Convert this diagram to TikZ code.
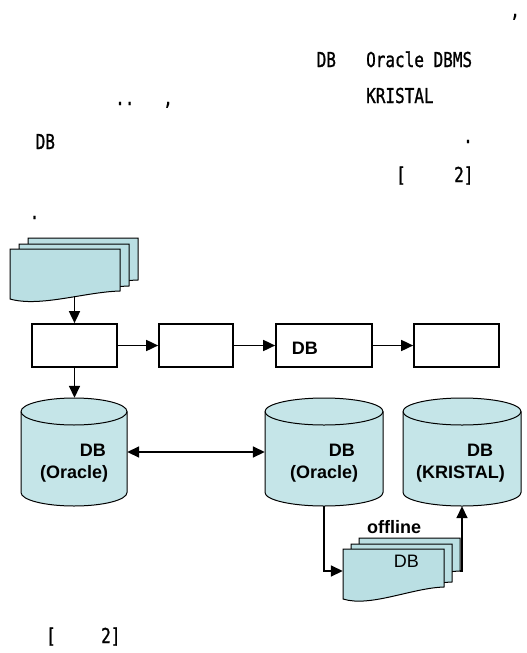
\documentclass[tikz,border=0pt]{standalone}
\usepackage{fontspec}
\setmainfont{Liberation Sans}
\newfontfamily\monofnt[FakeBold=1.2]{DejaVu Sans Mono}
\usepackage{graphicx}
\usetikzlibrary{arrows.meta}
\definecolor{docfill}{RGB}{186,223,227}
\definecolor{cylfill}{RGB}{197,229,232}
\newcommand{\condtxt}[1]{\scalebox{0.78}[1]{\monofnt\fontsize{20.5}{20.5}\selectfont #1}}
% sheet: L, R, T, BR, BL
\newcommand{\docsheet}[5]{%
  \draw[sheet] (#1,-#3) -- (#2,-#3) -- (#2,-#4)
    .. controls ({#2-0.32*(#2-#1)},{-#4-1}) and ({#1+0.27*(#2-#1)},{-#5-8.5}) .. (#1,-#5) -- cycle;}
% cylinder: L, R, T, B
\newcommand{\cylshape}[4]{%
  \draw[cylbody] (#1,{-(#3+13.5)}) -- (#1,{-(#4-13.5)})
    arc[start angle=180,end angle=360,x radius={(#2-#1)/2},y radius=13.5]
    -- (#2,{-(#3+13.5)})
    arc[start angle=0,end angle=180,x radius={(#2-#1)/2},y radius=13.5] -- cycle;
  \draw[cylbody,fill=none] (#1,{-(#3+13.5)})
    arc[start angle=180,end angle=360,x radius={(#2-#1)/2},y radius=13.5];}
\tikzset{
  ptxt/.style={inner sep=0pt, anchor=base west},
  holder/.style={rectangle, draw=none, inner sep=0pt},
  flowbox/.style={rectangle, draw, line width=1.7pt, minimum height=43pt, inner sep=0pt},
  arr/.style={line width=1.7pt, -{Triangle[length=12pt,width=11pt]}},
  darr/.style={line width=1.7pt, {Triangle[length=12pt,width=11pt]}-{Triangle[length=12pt,width=11pt]}},
  lblb/.style={inner sep=0pt, font=\bfseries\fontsize{18}{18}\selectfont},
  lblr/.style={inner sep=0pt, font=\fontsize{18}{18}\selectfont},
  sheet/.style={draw=black, fill=docfill, line width=1pt},
  cylbody/.style={draw=black, fill=cylfill, line width=1pt},
}
\begin{document}
\begin{tikzpicture}[x=1pt,y=1pt]
\fill[white] (0,0) rectangle (527,-653);
\useasboundingbox (0,0) rectangle (527,-653);

% ---- text lines ----
\node[ptxt] (t1) at (510,-17) {\condtxt{,}};
\node[ptxt] (t2) at (316.5,-67) {\condtxt{DB}};
\node[ptxt] (t3) at (366,-67) {\condtxt{Oracle DBMS}};
\node[ptxt] (t4) at (366,-103) {\condtxt{KRISTAL}};
\node[ptxt] (t5) at (115,-105) {\condtxt{..}};
\node[ptxt] (t6) at (163,-105) {\condtxt{,}};
\node[ptxt] (t7) at (35.5,-149) {\condtxt{DB}};
\node[ptxt] (t8) at (463,-143) {\condtxt{.}};
\node[ptxt] (t9) at (396,-182) {\condtxt{[}};
\node[ptxt] (t10) at (454,-182) {\condtxt{2]}};
\node[ptxt] (t11) at (29.5,-219) {\condtxt{.}};
\node[ptxt] (t12) at (46,-643) {\condtxt{[}};
\node[ptxt] (t13) at (101,-643) {\condtxt{2]}};

% ---- document stack 1 ----
\docsheet{28}{138}{238}{280}{288}
\docsheet{19}{129}{244}{286}{294}
\docsheet{10}{120}{249}{291}{299}
\node[holder, minimum width=110pt, minimum height=47pt] (doc1c) at (65,-272.5) {};

% ---- process boxes ----
\node[flowbox, minimum width=85pt] (box1) at (74.5,-345.5) {};
\node[flowbox, minimum width=74pt] (box2) at (196,-345.5) {};
\node[flowbox, minimum width=96pt] (box3) at (324,-345.5) {};
\node[flowbox, minimum width=85pt] (box4) at (456.5,-345.5) {};
\node[lblb, anchor=base west] (box3t) at (291.7,-354) {DB};

% ---- cylinders ----
\cylshape{21}{127}{398}{506}
\cylshape{265}{383}{398}{506}
\cylshape{403}{521}{398}{506}
\node[holder, minimum width=106pt, minimum height=108pt] (cyl1) at (74,-452) {};
\node[holder, minimum width=118pt, minimum height=108pt] (cyl2) at (324,-452) {};
\node[holder, minimum width=118pt, minimum height=108pt] (cyl3) at (462,-452) {};
\node[lblb, anchor=base east] (c1a) at (106,-456) {DB};
\node[lblb, anchor=base east] (c1b) at (108.3,-478) {(Oracle)};
\node[lblb, anchor=base east] (c2a) at (355,-456) {DB};
\node[lblb, anchor=base east] (c2b) at (358.3,-478) {(Oracle)};
\node[lblb, anchor=base east] (c3a) at (493.3,-456) {DB};
\node[lblb, anchor=base east] (c3b) at (505,-478) {(KRISTAL)};

% ---- document stack 2 ----
\docsheet{359}{460}{538}{571}{583}
\docsheet{351}{452}{544}{582}{594}
\docsheet{343}{444}{549}{587}{599}
\node[holder, minimum width=101pt, minimum height=33pt] (doc2a) at (409.5,-554.5) {};
\node[holder, minimum width=101pt, minimum height=44pt] (doc2c) at (393.5,-571) {};
\node[lblb, anchor=base west] (offl) at (367,-533) {offline};
\node[lblr, anchor=base west] (doc2t) at (393.6,-567) {DB};

% ---- connectors ----
\draw[arr] (doc1c.south -| box1.north) -- (box1.north);
\draw[arr] (box1) -- (box2);
\draw[arr] (box2) -- (box3);
\draw[arr] (box3) -- (box4);
\draw[arr] (box1.south) -- (box1.south |- cyl1.north);
\draw[darr] (cyl1.east) -- (cyl2.west);
\draw[arr] (cyl2.south) |- (doc2c.west);
\draw[arr] (doc2a.south east) -| (cyl3.south);
\end{tikzpicture}
\end{document}
